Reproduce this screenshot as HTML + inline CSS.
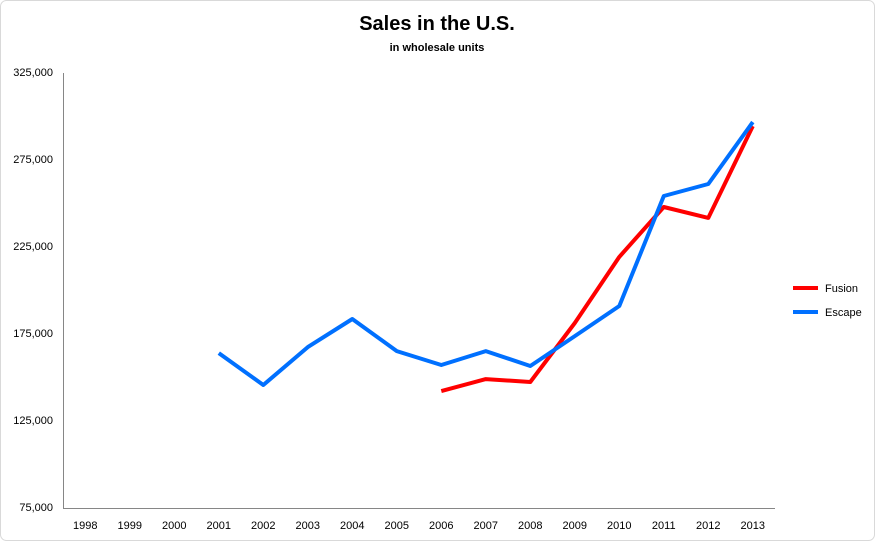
<!DOCTYPE html>
<html><head><meta charset="utf-8"><style>
body{margin:0;background:#fff;}
svg{display:block;font-family:"Liberation Sans",Calibri,sans-serif;}
</style></head><body>
<svg id="c" width="875" height="541">
<rect x="0.5" y="0.5" width="874" height="540" rx="6" fill="#fff" stroke="#d9d9d9"/>
<text x="437" y="30" text-anchor="middle" font-size="20" font-weight="bold" fill="#000">Sales in the U.S.</text>
<text x="437" y="51" text-anchor="middle" font-size="11" font-weight="bold" fill="#000">in wholesale units</text>
<g id="axes"></g><g id="series"></g>
<g>
<line x1="793" y1="288" x2="818" y2="288" stroke="#ff0000" stroke-width="4"/>
<text x="825" y="292" font-size="11" fill="#000">Fusion</text>
<line x1="793" y1="312" x2="818" y2="312" stroke="#0070ff" stroke-width="4"/>
<text x="825" y="316" font-size="11" fill="#000">Escape</text>
</g>
</svg>
<script>
const years=[1998,1999,2000,2001,2002,2003,2004,2005,2006,2007,2008,2009,2010,2011,2012,2013];
const yTicks=[75000,125000,175000,225000,275000,325000];
const escape=[null,null,null,164000,145700,167500,183600,165200,157200,165200,156600,173800,191100,254300,261200,296800];
const fusion=[null,null,null,null,null,null,null,null,142200,149100,147400,181300,219300,248000,241700,294500];
const NS="http://www.w3.org/2000/svg";
const x0=63,x1=775,yTop=73,yBot=508,yMin=75000,yMax=325000;
const step=(x1-x0)/years.length;
const xs=i=>x0+step*(i+0.5);
const ys=v=>yBot-(v-yMin)/(yMax-yMin)*(yBot-yTop);
function mk(t,a,p){const e=document.createElementNS(NS,t);for(const k in a)e.setAttribute(k,a[k]);p.appendChild(e);return e;}
const ax=document.getElementById('axes');
let e=mk('line',{x1:x0+0.5,y1:yTop,x2:x0+0.5,y2:yBot,stroke:'#868686'},ax);


e=mk('line',{x1:x0,y1:yBot+0.5,x2:x1,y2:yBot+0.5,stroke:'#868686'},ax);


yTicks.forEach(v=>{
 const t=mk('text',{x:x0-10,y:ys(v)+3,'text-anchor':'end','font-size':11,fill:'#000'},ax);
 t.textContent=v.toLocaleString('en-US');
 
 
});
years.forEach((y,i)=>{
 const t=mk('text',{x:xs(i),y:529,'text-anchor':'middle','font-size':11,fill:'#000'},ax);
 t.textContent=y;
 
 
});
const sg=document.getElementById('series');
function line(vals,color,name){
 const pts=[];vals.forEach((v,i)=>{if(v!=null)pts.push(xs(i).toFixed(1)+','+ys(v).toFixed(1));});
 const p=mk('polyline',{points:pts.join(' '),fill:'none',stroke:color,'stroke-width':4,'stroke-linejoin':'round'},sg);
 
 
}
line(fusion,'#ff0000','fusion-line');
line(escape,'#0070ff','escape-line');
</script>
</body></html>
